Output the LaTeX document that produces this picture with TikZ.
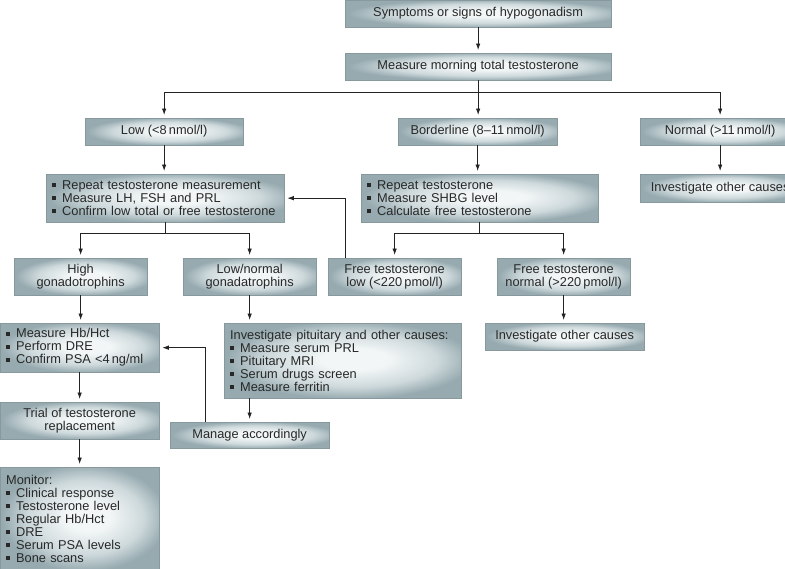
\documentclass[tikz,border=0pt]{standalone}
\usepackage{fontspec}
\setmainfont{Liberation Sans}
\usetikzlibrary{arrows.meta}
\definecolor{boxin}{RGB}{242,246,246}
\definecolor{boxmid}{RGB}{206,217,220}
\definecolor{boxout}{RGB}{150,170,175}
\definecolor{txt}{RGB}{40,40,40}
\definecolor{lncol}{RGB}{35,35,35}
\pgfdeclareradialshading{boxshade}{\pgfpoint{3bp}{1bp}}{color(0bp)=(boxin); color(7bp)=(boxin); color(18bp)=(boxmid); color(26bp)=(boxout); color(50bp)=(boxout)}
\newcommand\bl{\makebox[10pt][l]{\rule[2pt]{4pt}{4pt}}}
\tikzset{
  box/.style={shading=boxshade, draw=boxout!90!black, line width=0.3pt, inner sep=0pt,
    text=txt, font=\fontsize{12.8}{13}\selectfont, anchor=north west, align=center},
  listbox/.style={box, align=left, inner xsep=6pt},
  arr/.style={draw=lncol, line width=0.8pt, -{Latex[length=6.5pt,width=4.5pt]}, shorten >=3pt},
  ln/.style={draw=lncol, line width=0.8pt}
}
\begin{document}
\begin{tikzpicture}[x=1pt,y=-1pt]
\useasboundingbox (0,0) rectangle (785,568);
\node[box, minimum width=266pt, minimum height=27pt] (top) at (345,0) {Symptoms or signs of hypogonadism};
\node[box, minimum width=266pt, minimum height=27pt] (meas) at (345,53) {Measure morning total testosterone};
\node[box, minimum width=158pt, minimum height=27pt] (low) at (85,118) {Low (<8\,nmol/l)};
\node[box, minimum width=159pt, minimum height=27pt] (border) at (398,118) {Borderline (8–11\,nmol/l)};
\node[box, minimum width=160pt, minimum height=27pt] (normal) at (640,118) {Normal (>11\,nmol/l)};
\node[listbox, text width=226pt, minimum height=48pt] (rep) at (46,174) {\bl Repeat testosterone measurement\\\bl Measure LH, FSH and PRL\\\bl Confirm low total or free testosterone};
\node[listbox, text width=225pt, minimum height=48pt] (rep2) at (361,174) {\bl Repeat testosterone\\\bl Measure SHBG level\\\bl Calculate free testosterone};
\node[box, minimum width=160pt, minimum height=28pt] (oth1) at (640,174) {Investigate other causes};
\node[box, minimum width=133pt, minimum height=37pt] (high) at (14,258) {High\\gonadotrophins};
\node[box, minimum width=133pt, minimum height=37pt] (lown) at (183,258) {Low/normal\\gonadatrophins};
\node[box, minimum width=133pt, minimum height=37pt] (flow) at (328,258) {Free testosterone\\low (<220\,pmol/l)};
\node[box, minimum width=133pt, minimum height=37pt] (fnorm) at (497,258) {Free testosterone\\normal (>220\,pmol/l)};
\node[listbox, text width=147pt, minimum height=49pt] (hb) at (0,323) {\bl Measure Hb/Hct\\\bl Perform DRE\\\bl Confirm PSA <4\,ng/ml};
\node[listbox, text width=225pt, minimum height=75pt] (pit) at (224,323) {Investigate pituitary and other causes:\\\bl Measure serum PRL\\\bl Pituitary MRI\\\bl Serum drugs screen\\\bl Measure ferritin};
\node[box, minimum width=159pt, minimum height=27pt] (oth2) at (485,323) {Investigate other causes};
\node[box, minimum width=159pt, minimum height=37pt] (trial) at (0,402) {Trial of testosterone\\replacement};
\node[box, minimum width=159pt, minimum height=26pt] (manage) at (170,422) {Manage accordingly};
\node[listbox, text width=147pt, minimum height=103pt] (mon) at (0,467) {Monitor:\\\bl Clinical response\\\bl Testosterone level\\\bl Regular Hb/Hct\\\bl DRE\\\bl Serum PSA levels\\\bl Bone scans};

\draw[arr] (top.south) -- (meas.north);
\draw[ln] (meas.south) -- ++(0,12) coordinate (j1);
\draw[ln] (low.north |- j1) -- (normal.north |- j1);
\draw[arr] (low.north |- j1) -- (low.north);
\draw[arr] (j1) -- (j1 |- border.north);
\draw[arr] (normal.north |- j1) -- (normal.north);
\draw[arr] (low.south) -- (low.south |- rep.north);
\draw[arr] (border.south) -- (border.south |- rep2.north);
\draw[arr] (normal.south) -- (normal.south |- oth1.north);

\draw[ln] (rep.south) -- ++(0,11) coordinate (j2);
\draw[ln] (high.north |- j2) -- (lown.north |- j2);
\draw[arr] (high.north |- j2) -- (high.north);
\draw[arr] (lown.north |- j2) -- (lown.north);

\draw[ln] (rep2.south) -- ++(0,11) coordinate (j3);
\draw[ln] (flow.north |- j3) -- (fnorm.north |- j3);
\draw[arr] (flow.north |- j3) -- (flow.north);
\draw[arr] (fnorm.north |- j3) -- (fnorm.north);

\draw[arr] ([xshift=17pt]flow.north west) |- (rep.east);
\draw[arr] (fnorm.south) -- (fnorm.south |- oth2.north);
\draw[arr] (high.south) -- (high.south |- hb.north);
\draw[arr] (lown.south) -- (lown.south |- pit.north);
\draw[arr] (hb.south) -- (hb.south |- trial.north);
\draw[arr] (lown.south |- pit.south) -- (lown.south |- manage.north);
\draw[arr] (trial.south) -- (trial.south |- mon.north);
\draw[arr] ([xshift=35pt]manage.north west) |- (hb.east);
\end{tikzpicture}
\end{document}
